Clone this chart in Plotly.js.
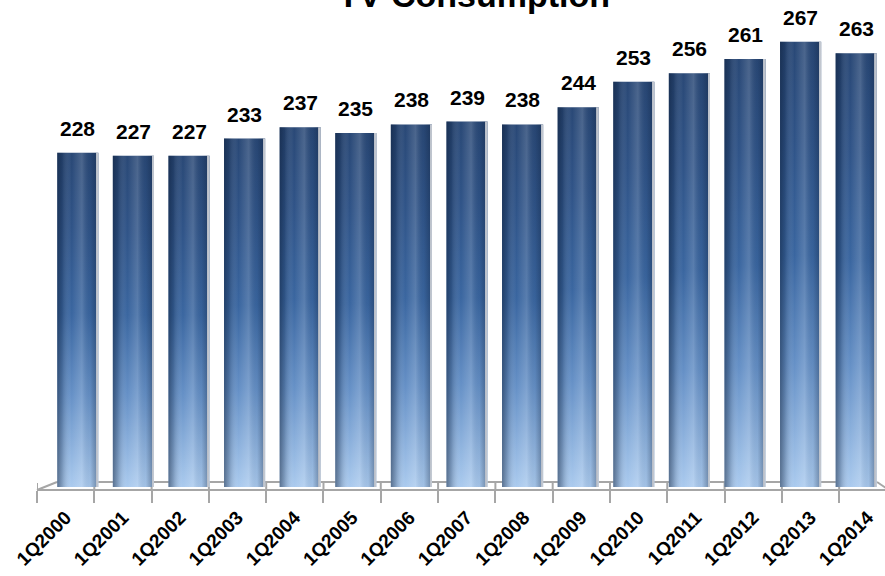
<!DOCTYPE html>
<html>
<head>
<meta charset="utf-8">
<script src="https://cdn.plot.ly/plotly-3.0.1.min.js"></script>
<style>html,body{margin:0;padding:0;background:#fff;}#chart{width:885px;height:576px;}</style>
</head>
<body>
<div id="chart"></div>
<script>
var categories = ["1Q2000","1Q2001","1Q2002","1Q2003","1Q2004","1Q2005","1Q2006","1Q2007","1Q2008","1Q2009","1Q2010","1Q2011","1Q2012","1Q2013","1Q2014"];
var consumption = [228,227,227,233,237,235,238,239,238,244,253,256,261,267,263];
var chartTitle = "TV Consumption";

var W = 885, H = 576, ML = 37, MB = 60;
var PW = W - ML, PH = H - MB;
function px(x){ return (x - ML) / PW; }
function py(y){ return (PH - y) / PH; }

var traces = [
  {type:'bar', x:categories, y:consumption, xaxis:'x', yaxis:'y',
   marker:{color:'#3a66a0', line:{width:0}}, hoverinfo:'skip', name:'base'},
  {type:'bar', x:categories, y:consumption, xaxis:'x', yaxis:'y',
   marker:{color:'rgba(0,0,0,0)', line:{width:0}}, hoverinfo:'skip', name:'shade'},
  {type:'scatter', mode:'markers', x:categories, y:consumption, xaxis:'x2', yaxis:'y',
   marker:{opacity:0, size:1}, hoverinfo:'skip', name:'front'}
];

var axisGray = '#a6a6a6';
var shapes = [
  {type:'line', xref:'paper', yref:'paper', x0:px(57), y0:py(482), x1:px(877), y1:py(482), line:{color:axisGray, width:2}, layer:'below'},
  {type:'line', xref:'paper', yref:'paper', x0:px(37), y0:py(490), x1:px(57), y1:py(482), line:{color:axisGray, width:2}, layer:'below'},
  {type:'line', xref:'paper', yref:'paper', x0:px(877), y0:py(482), x1:px(886), y1:py(488), line:{color:axisGray, width:2}, layer:'below'}
];
for (var k = 0; k <= categories.length; k++) {
  shapes.push({type:'line', xref:'x2', yref:'paper', x0:k-0.5, x1:k-0.5, y0:py(490), y1:py(483), line:{color:axisGray, width:2}, layer:'below'});
}

var annotations = categories.map(function(c, i){
  return {xref:'x', yref:'y', x:c, y:consumption[i], text:'<b>' + consumption[i] + '</b>', showarrow:false,
    yanchor:'bottom', yshift:11, font:{family:'Liberation Sans, Arial, sans-serif', size:21, color:'#000'}};
});
annotations.push({xref:'paper', yref:'paper', x:px(474), y:1, yanchor:'bottom', yshift:-16, showarrow:false,
  text:'<b>' + chartTitle + '</b>', font:{family:'Liberation Sans, Arial, sans-serif', size:34, color:'#000'}});

var layout = {
  width:W, height:H,
  margin:{l:ML, r:0, t:0, b:MB, pad:0},
  paper_bgcolor:'#ffffff', plot_bgcolor:'rgba(0,0,0,0)',
  showlegend:false, barmode:'overlay', bargap:0.26,
  xaxis:{type:'category', domain:[px(50), px(884)], range:[-0.5, 14.5], showticklabels:false, showline:false, ticks:'', showgrid:false, zeroline:false, fixedrange:true},
  xaxis2:{type:'category', domain:[0,1], range:[-0.5, 14.3], anchor:'free', position:py(490),
    showline:true, linecolor:axisGray, linewidth:2, ticks:'outside', ticklen:12, tickwidth:2, tickcolor:axisGray,
    tickson:'boundaries', tickangle:-45, showgrid:false, zeroline:false, ticklabelstandoff:8,
    tickfont:{family:'Liberation Sans, Arial, sans-serif', size:19, color:'#000', weight:'bold'}},
  yaxis:{domain:[py(487), 1], range:[110.6, 281.7], visible:false, showgrid:false, zeroline:false, fixedrange:true},
  shapes:shapes,
  annotations:annotations
};

Plotly.newPlot('chart', traces, layout, {displayModeBar:false, staticPlot:true}).then(function(gd){
  var svg = gd.querySelector('.main-svg');
  var defs = svg.querySelector('defs');
  var ns = 'http://www.w3.org/2000/svg';
  var L = gd._fullLayout.yaxis._length;
  function grad(id, coords, user, stops){
    var g = document.createElementNS(ns, 'linearGradient');
    g.setAttribute('id', id);
    if (user) g.setAttribute('gradientUnits', 'userSpaceOnUse');
    g.setAttribute('x1', coords[0]); g.setAttribute('y1', coords[1]);
    g.setAttribute('x2', coords[2]); g.setAttribute('y2', coords[3]);
    stops.forEach(function(s){
      var st = document.createElementNS(ns, 'stop');
      st.setAttribute('offset', s[0]);
      st.setAttribute('stop-color', s[1]);
      st.setAttribute('stop-opacity', s[2] === undefined ? 1 : s[2]);
      g.appendChild(st);
    });
    defs.appendChild(g);
  }
  var vStops = [[0,'#294876'],[0.22,'#2f5387'],[0.48,'#3a66a0'],[0.72,'#6590c6'],[1,'#aacaee']];
  grad('barH', [0,0,1,0], false, [[0,'#0a1a33',0.5],[0.12,'#0a1a33',0.25],[0.35,'#ffffff',0.0],[0.6,'#ffffff',0.16],[0.8,'#0a1a33',0.05],[0.94,'#0a1a33',0.3],[0.945,'#b8bec8',1],[1,'#c6cbd3',1]]);
  var groups = gd.querySelectorAll('.barlayer .trace');
  if (groups[0]) groups[0].querySelectorAll('path').forEach(function(p, i){
    var bb = p.getBBox();
    var top = bb.y, bot = Math.min(bb.y + bb.height, L);
    grad('barV' + i, [0, top, 0, bot], true, vStops);
    p.style.fill = 'url(#barV' + i + ')';
  });
  if (groups[1]) groups[1].querySelectorAll('path').forEach(function(p){ p.style.fill = 'url(#barH)'; p.style.fillOpacity = 1; });
});
</script>
</body>
</html>
